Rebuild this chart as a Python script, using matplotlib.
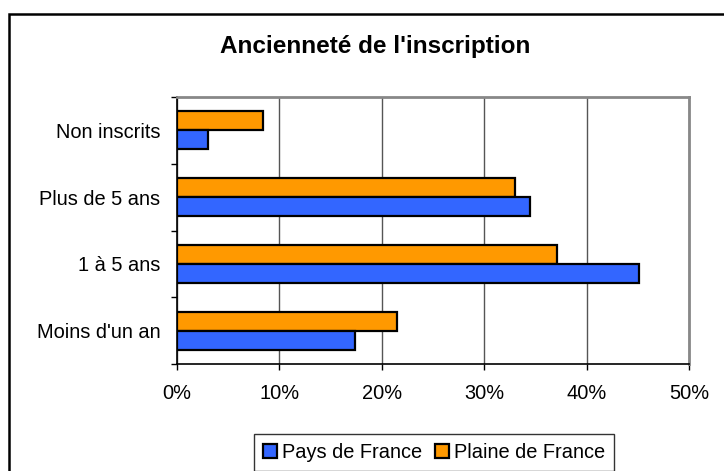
import matplotlib
matplotlib.use("Agg")
import matplotlib.pyplot as plt
from matplotlib.patches import Rectangle, Patch
from matplotlib.ticker import FuncFormatter, FixedLocator
import numpy as np

plt.rcParams['font.family'] = ['Liberation Sans', 'DejaVu Sans']

title = "Ancienneté de l'inscription"
categories = ["Moins d'un an", "1 à 5 ans", "Plus de 5 ans", "Non inscrits"]
series_names = ["Pays de France", "Plaine de France"]
pays = [17.4, 45.1, 34.5, 3.0]
plaine = [21.5, 37.1, 33.0, 8.4]
colors = ["#3366FF", "#FF9900"]
xticks = [0, 10, 20, 30, 40, 50]

W, H = 724, 471
fig = plt.figure(figsize=(W / 100, H / 100), dpi=100)

# outer chart frame (extends beyond right/bottom edges)
fig.patches.append(Rectangle((9 / W, -0.05), 1.2, 1 - 14 / H + 0.05,
                             transform=fig.transFigure, fill=False,
                             edgecolor='black', linewidth=1.8, zorder=0))

ax = fig.add_axes([177 / W, 1 - 364 / H, (689 - 177) / W, (364 - 97) / H])

y = np.arange(len(categories))
h = 0.285
ax.barh(y + h / 2, plaine, height=h, color=colors[1], edgecolor='black',
        linewidth=1.6, zorder=3)
ax.barh(y - h / 2, pays, height=h, color=colors[0], edgecolor='black',
        linewidth=1.6, zorder=3)

ax.set_xlim(0, 50)
ax.set_ylim(-0.5, len(categories) - 0.5)
ax.set_xticks(xticks)
ax.xaxis.set_major_formatter(FuncFormatter(lambda v, p: f"{v:.0f}%"))
ax.grid(axis='x', color='#555555', linewidth=1.0, zorder=1)

# category ticks at band boundaries, labels at centers
ax.yaxis.set_major_locator(FixedLocator(np.arange(len(categories) + 1) - 0.5))
ax.yaxis.set_major_formatter(FuncFormatter(lambda v, p: ""))
ax.yaxis.set_minor_locator(FixedLocator(y))
ax.set_yticklabels(categories, minor=True)
ax.tick_params(axis='y', which='minor', length=0, pad=12, labelsize=14.4)
ax.tick_params(axis='y', which='major', length=4, width=1, direction='out')
ax.tick_params(axis='x', length=4.5, width=1, direction='out', pad=10,
               labelsize=14.4)

for s in ['top', 'right']:
    ax.spines[s].set_color('#888888')
    ax.spines[s].set_linewidth(2)
for s in ['left', 'bottom']:
    ax.spines[s].set_color('black')
    ax.spines[s].set_linewidth(1.2)

fig.text(375 / W, 1 - 46 / H, title, ha='center', va='center',
         fontsize=17.5, fontweight='bold')

handles = [Patch(facecolor=colors[0], edgecolor='black', linewidth=1.6),
           Patch(facecolor=colors[1], edgecolor='black', linewidth=1.6)]
leg = fig.legend(handles, series_names, loc='center',
                 bbox_to_anchor=(434 / W, 1 - 452 / H), ncol=2,
                 fontsize=14.4, frameon=True, fancybox=False,
                 edgecolor='black', handlelength=0.7, handleheight=0.7,
                 handletextpad=0.25, columnspacing=0.6, borderpad=0.45,
                 borderaxespad=0)
leg.get_frame().set_linewidth(1.0)

fig.savefig("out.png", dpi=100)
